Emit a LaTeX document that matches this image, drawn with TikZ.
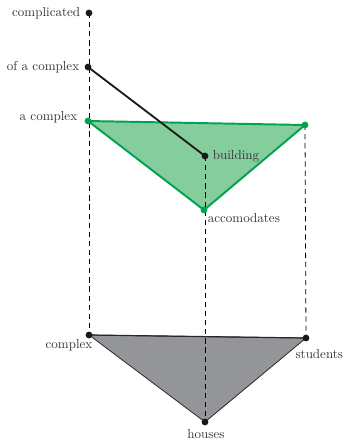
\documentclass[tikz,border=0pt]{standalone}
\begin{document}
\begin{tikzpicture}[x=0.768pt,y=-0.768pt,
  txt/.style={text=black!80,inner sep=2pt},
  bdot/.style={circle,fill=black!90,inner sep=0pt,minimum size=5.2pt},
  gdot/.style={circle,fill=gline,inner sep=0pt,minimum size=5.2pt},
  vdash/.style={dashed,dash pattern=on 4pt off 3pt,line width=0.6pt},
]
\definecolor{gfill}{RGB}{134,205,158}
\definecolor{gline}{RGB}{0,163,80}
\definecolor{tfill}{RGB}{148,149,153}
\useasboundingbox (0,0) rectangle (344,443);
% points
\coordinate (pComplicated) at (89,13);
\coordinate (pOfComplex) at (88,67);
\coordinate (pAComplex) at (88,121);
\coordinate (pRight) at (305,125);
\coordinate (pAcc) at (204,210);
\coordinate (pBuild) at (205,156);
\coordinate (pComplex) at (89,335);
\coordinate (pStudents) at (306,338);
\coordinate (pHouses) at (205,422);
% triangles
\filldraw[fill=tfill,draw=black!85,line width=0.6pt] (pComplex) -- (pStudents) -- (pHouses) -- cycle;
\draw[black!85,line width=0.9pt] (pComplex) -- (pStudents);
\fill[gfill] (pAComplex) -- (pRight) -- (pAcc) -- cycle;
% dashed verticals
\draw[vdash] (pComplicated) -- (pComplex);
\draw[vdash] (pBuild) -- (pHouses);
\draw[vdash] (pRight) -- (pStudents);
% green outline
\draw[gline,line width=1.5pt,line join=round] (pAComplex) -- (pRight) -- (pAcc) -- cycle;
% black line
\draw[black!90,line width=1.4pt] (pOfComplex) -- (pBuild);
% dots
\node[bdot] (nComplicated) at (pComplicated) {};
\node[bdot] (nOfComplex) at (pOfComplex) {};
\node[gdot] (nAComplex) at (pAComplex) {};
\node[gdot] (nRight) at (pRight) {};
\node[gdot] (nAcc) at (pAcc) {};
\node[bdot] (nBuild) at (pBuild) {};
\node[bdot] (nComplex) at (pComplex) {};
\node[bdot] (nStudents) at (pStudents) {};
\node[bdot] (nHouses) at (pHouses) {};
% labels
\node[txt,anchor=east] at (83,13) {complicated};
\node[txt,anchor=east] at (82,67) {of a complex};
\node[txt,anchor=east] at (80,117) {a complex};
\node[txt,anchor=west] at (210,156) {building};
\node[txt,anchor=west] at (205,218) {accomodates};
\node[txt] at (69,345) {complex};
\node[txt,anchor=east,inner sep=0.5pt] at (344,354) {students};
\node[txt] at (206,434) {houses};
\end{tikzpicture}
\end{document}
